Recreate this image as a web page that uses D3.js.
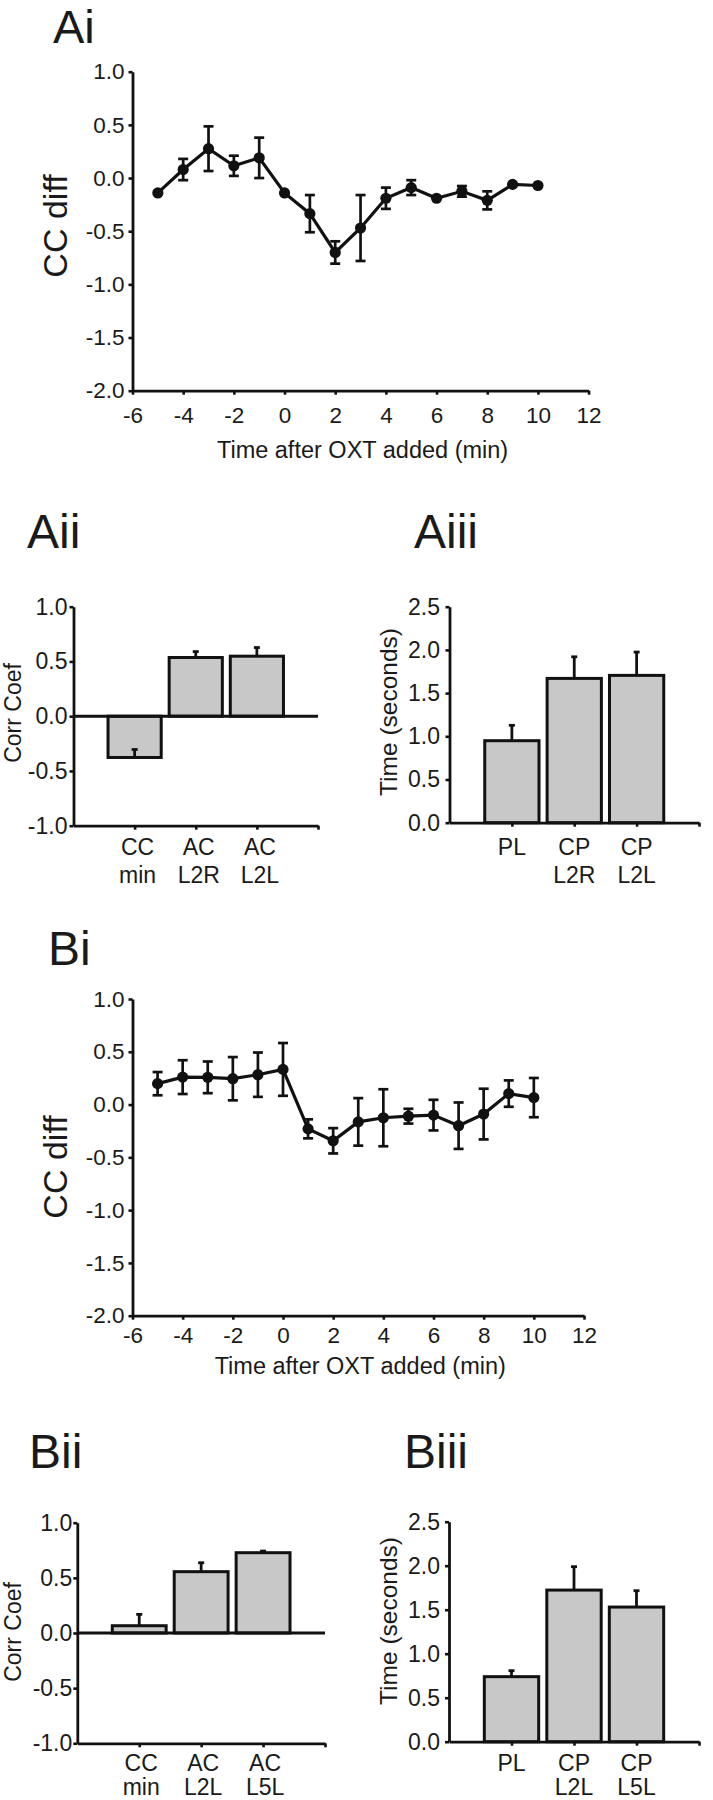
<!DOCTYPE html>
<html><head><meta charset="utf-8">
<script src="https://cdn.jsdelivr.net/npm/d3@7"></script>
<style>
body{margin:0;background:#fff}
svg{display:block}
text{font-family:"Liberation Sans",Arial,Helvetica,sans-serif;fill:#1a1a1a}
</style>
</head><body>
<svg id="c" width="713" height="1800"></svg>
<script>
// ---------- data ----------
const timeMin = [-5,-4,-3,-2,-1,0,1,2,3,4,5,6,7,8,9,10];
const aiMean = [-0.14,0.08,0.276,0.115,0.19,-0.14,-0.335,-0.70,-0.47,-0.19,-0.09,-0.19,-0.125,-0.21,-0.06,-0.07];
const aiErr  = [0,0.10,0.21,0.095,0.19,0,0.175,0.105,0.31,0.10,0.07,0,0.05,0.085,0,0];
const biMean = [0.198,0.26,0.258,0.245,0.283,0.333,-0.23,-0.343,-0.164,-0.125,-0.11,-0.10,-0.20,-0.09,0.104,0.066];
const biErr  = [0.11,0.16,0.15,0.205,0.21,0.25,0.09,0.12,0.225,0.27,0.07,0.145,0.22,0.24,0.125,0.186];
const xTicks = [-6,-4,-2,0,2,4,6,8,10,12];
const ccTicks = [1,0.5,0,-0.5,-1,-1.5,-2];
const corrTicks = [1,0.5,0,-0.5,-1];
const secTicks = [0,0.5,1,1.5,2,2.5];

const aiiCats = [["CC","min"],["AC","L2R"],["AC","L2L"]];
const aiiVals = [-0.377,0.536,0.548];
const aiiErr  = [0.073,0.054,0.079];
const aiiiCats = [["PL"],["CP","L2R"],["CP","L2L"]];
const aiiiVals = [0.949,1.67,1.705];
const aiiiErr  = [0.178,0.25,0.27];
const biiCats = [["CC","min"],["AC","L2L"],["AC","L5L"]];
const biiVals = [0.066,0.556,0.728];
const biiErr  = [0.103,0.081,0.015];
const biiiCats = [["PL"],["CP","L2L"],["CP","L5L"]];
const biiiVals = [0.739,1.723,1.530];
const biiiErr  = [0.068,0.266,0.186];

// ---------- helpers ----------
const svg = d3.select("#c");
const INK = "#111";
const fix = s => s.replace(/\u2212/g,"-");
const f1 = d => fix(d3.format(".1f")(d));
const f0 = d => fix(d3.format("d")(d));

function styleAxis(g, fs){
  g.attr("font-size",null).attr("font-family",null);
  g.select(".domain").attr("stroke",INK).attr("stroke-width",2.8);
  g.selectAll(".tick line").attr("stroke",INK).attr("stroke-width",2.6);
  g.selectAll(".tick text").style("font-size",fs+"px").attr("fill","#1a1a1a");
}

function panelLabel(t,x,y,fs){
  svg.append("text").attr("x",x).attr("y",y).style("font-size",(fs||48)+"px").text(t);
}

function vLabel(t,x,y,fs){
  svg.append("text").attr("transform",`translate(${x},${y}) rotate(-90)`)
    .attr("text-anchor","middle").style("font-size",fs+"px").text(t);
}

function lineChart(o){
  const x = d3.scaleLinear().domain([-6,12]).range([o.x0,o.x1]);
  const y = d3.scaleLinear().domain([-2,1]).range([o.yb,o.yt]);
  const g = svg.append("g");
  const ya = g.append("g").attr("transform",`translate(${o.x0},0)`)
    .call(d3.axisLeft(y).tickValues(ccTicks).tickSize(4).tickSizeOuter(0).tickPadding(o.ypad).tickFormat(f1));
  styleAxis(ya,22.5);
  const xa = g.append("g").attr("transform",`translate(0,${o.yb})`)
    .call(d3.axisBottom(x).tickValues(xTicks).tickSize(4).tickSizeOuter(0).tickPadding(o.xpad).tickFormat(f0));
  styleAxis(xa,22.5);
  const pts = timeMin.map((t,i)=>({t,m:o.mean[i],e:o.err[i]}));
  const eb = g.append("g").attr("stroke",INK).attr("stroke-width",2.7);
  pts.filter(p=>p.e>0).forEach(p=>{
    eb.append("line").attr("x1",x(p.t)).attr("x2",x(p.t)).attr("y1",y(p.m-p.e)).attr("y2",y(p.m+p.e));
    [p.m-p.e,p.m+p.e].forEach(v=>eb.append("line").attr("x1",x(p.t)-5).attr("x2",x(p.t)+5).attr("y1",y(v)).attr("y2",y(v)));
  });
  g.append("path").datum(pts).attr("fill","none").attr("stroke",INK).attr("stroke-width",3.2)
    .attr("d",d3.line().x(p=>x(p.t)).y(p=>y(p.m)));
  g.selectAll("circle.m").data(pts).join("circle").attr("cx",p=>x(p.t)).attr("cy",p=>y(p.m)).attr("r",5.6).attr("fill",INK);
  svg.append("text").attr("x",(o.x0+o.x1)/2+2).attr("y",o.titleY).attr("text-anchor","middle")
    .style("font-size","23.5px").text("Time after OXT added (min)");
  vLabel("CC diff",o.labX,o.labY,34);
}

function barChart(o){
  const x = d3.scaleLinear().domain([0,4]).range([o.x0,o.x1]);
  const y = d3.scaleLinear().domain(o.ydom).range([o.yb,o.yt]);
  const g = svg.append("g");
  const bw = x(0.87)-x(0);
  const base = Math.max(o.ydom[0],0);
  g.selectAll("rect").data(o.vals).join("rect")
    .attr("x",(d,i)=>x(i+1)-bw/2).attr("width",bw)
    .attr("y",d=>y(Math.max(d,base))).attr("height",d=>Math.abs(y(d)-y(base)))
    .attr("fill","#c8c8c8").attr("stroke",INK).attr("stroke-width",3);
  const eb = g.append("g").attr("stroke",INK).attr("stroke-width",2.8);
  o.vals.forEach((v,i)=>{
    const cx = x(i+1), top = v+o.err[i];
    eb.append("line").attr("x1",cx).attr("x2",cx).attr("y1",y(v)).attr("y2",y(top));
    eb.append("line").attr("x1",cx-3).attr("x2",cx+3).attr("y1",y(top)).attr("y2",y(top));
  });
  const ya = g.append("g").attr("transform",`translate(${o.x0},0)`)
    .call(d3.axisLeft(y).tickValues(o.yticks).tickSize(4).tickSizeOuter(0).tickPadding(o.ypad).tickFormat(f1));
  styleAxis(ya,23);
  const xa = g.append("g").attr("transform",`translate(0,${o.yb})`)
    .call(d3.axisBottom(x).tickValues([1,2,3,4]).tickSize(4).tickSizeOuter(0).tickFormat(""));
  styleAxis(xa,23);
  if (o.ydom[0] < 0){
    g.append("line").attr("x1",o.x0).attr("x2",o.x1).attr("y1",y(0)).attr("y2",y(0))
      .attr("stroke",INK).attr("stroke-width",3);
  }
  o.cats.forEach((c,i)=>{
    c.forEach((s,j)=>{
      svg.append("text").attr("x",x(i+1)+o.labDx).attr("y",o.lab1+j*o.lineH).attr("text-anchor","middle")
        .style("font-size","23px").text(s);
    });
  });
  vLabel(o.title,o.tX,o.tY,o.tFs);
}

// ---------- panels ----------
panelLabel("Ai",53,43,47);
lineChart({x0:132.5,x1:588.6,yt:71.7,yb:390.7,ypad:4,xpad:12,mean:aiMean,err:aiErr,titleY:458,labX:67,labY:226});

panelLabel("Aii",27,548);
barChart({x0:73.5,x1:318,yt:606.7,yb:825.7,ydom:[-1,1],yticks:corrTicks,ypad:2,vals:aiiVals,err:aiiErr,cats:aiiCats,lab1:855,lineH:28,labDx:3,title:"Corr Coef",tX:21,tY:713,tFs:23});

panelLabel("Aiii",414,548);
barChart({x0:449.5,x1:699,yt:606.7,yb:822.7,ydom:[0,2.5],yticks:secTicks,ypad:5.5,vals:aiiiVals,err:aiiiErr,cats:aiiiCats,lab1:855,lineH:28,labDx:0,title:"Time (seconds)",tX:397,tY:712,tFs:24.5});

panelLabel("Bi",48,965);
lineChart({x0:132.5,x1:584,yt:999,yb:1315.7,ypad:4,xpad:7,mean:biMean,err:biErr,titleY:1374,labX:67,labY:1167});

panelLabel("Bii",29,1468);
barChart({x0:77.3,x1:325,yt:1522.7,yb:1743.3,ydom:[-1,1],yticks:corrTicks,ypad:1,vals:biiVals,err:biiErr,cats:biiCats,lab1:1771,lineH:24,labDx:2,title:"Corr Coef",tX:21,tY:1632,tFs:23});

panelLabel("Biii",404,1468);
barChart({x0:449,x1:699,yt:1521.7,yb:1741.7,ydom:[0,2.5],yticks:secTicks,ypad:5,vals:biiiVals,err:biiiErr,cats:biiiCats,lab1:1771,lineH:24,labDx:0,title:"Time (seconds)",tX:397,tY:1621,tFs:24.5});
</script>
</body></html>
